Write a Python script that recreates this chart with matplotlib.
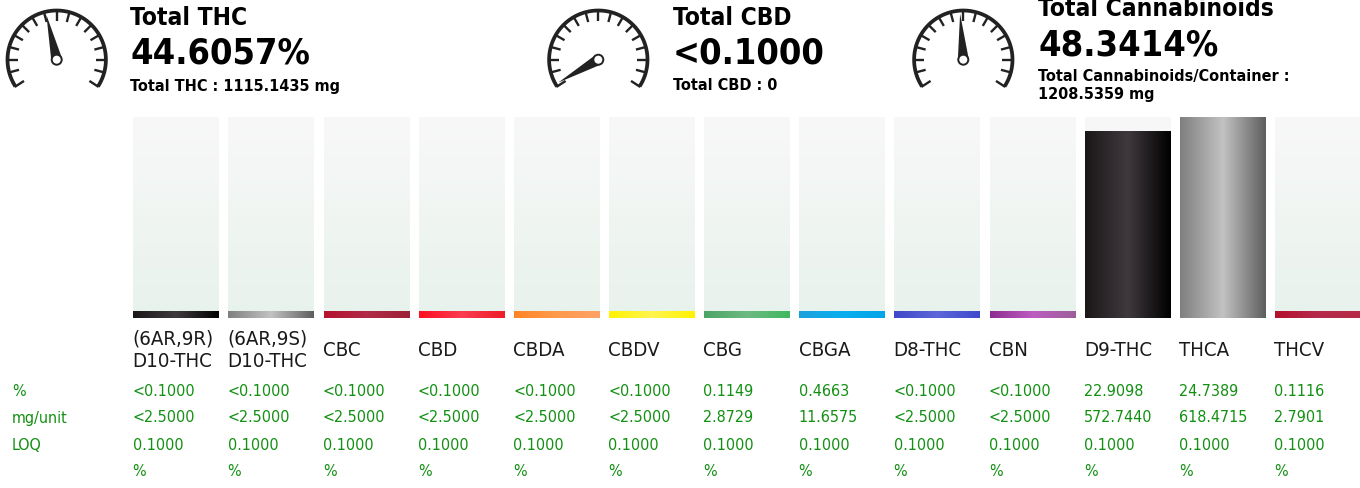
import numpy as np
import matplotlib
matplotlib.use("Agg")
import matplotlib.pyplot as plt
from matplotlib.colors import LinearSegmentedColormap
from matplotlib.patches import Circle, Polygon

W, H = 1360, 489

analytes = ["(6AR,9R)\nD10-THC", "(6AR,9S)\nD10-THC", "CBC", "CBD", "CBDA", "CBDV", "CBG",
            "CBGA", "D8-THC", "CBN", "D9-THC", "THCA", "THCV"]
percent_values = [0, 0, 0, 0, 0, 0, 0.1149, 0.4663, 0, 0, 22.9098, 24.7389, 0.1116]
percent_labels = ["<0.1000", "<0.1000", "<0.1000", "<0.1000", "<0.1000", "<0.1000", "0.1149",
                  "0.4663", "<0.1000", "<0.1000", "22.9098", "24.7389", "0.1116"]
mg_labels = ["<2.5000", "<2.5000", "<2.5000", "<2.5000", "<2.5000", "<2.5000", "2.8729",
             "11.6575", "<2.5000", "<2.5000", "572.7440", "618.4715", "2.7901"]
loq_labels = ["0.1000"] * 13
unit_labels = ["%"] * 13
row_names = ["%", "mg/unit", "LOQ"]
bar_gradients = [
    ["#1b1718", "#3f393e", "#000000"],
    ["#7f7f7f", "#c2c2c2", "#5e5e5e"],
    ["#b5122d", "#b12b47", "#9b2136"],
    ["#ff1020", "#fb3c50", "#ee1c28"],
    ["#ff8426", "#ff9a4a", "#ffa266"],
    ["#fff200", "#fff44f", "#fff200"],
    ["#4aa564", "#6eba82", "#3eb85f"],
    ["#1ba1dc", "#09aeef", "#00a4e8"],
    ["#3f48c8", "#5d67d8", "#3f48cc"],
    ["#8c2d8f", "#bd5cc2", "#9c6098"],
    ["#1b1718", "#3f393e", "#000000"],
    ["#7f7f7f", "#c2c2c2", "#5e5e5e"],
    ["#b5102c", "#b52a4c", "#b52a44"],
]
track_colors = ["#f8f8f8", "#e8f2ec"]

gauge_titles = ["Total THC", "Total CBD", "Total Cannabinoids"]
gauge_values = [44.6057, 0.1, 48.3414]
gauge_labels = ["44.6057%", "<0.1000", "48.3414%"]
gauge_notes = ["Total THC : 1115.1435 mg", "Total CBD : 0",
               "Total Cannabinoids/Container :\n1208.5359 mg"]

fig = plt.figure(figsize=(W / 100, H / 100), dpi=100, facecolor="white")
plt.rcParams["font.family"] = "DejaVu Sans"
COND = dict(family="DejaVu Sans", stretch="condensed")

ov = fig.add_axes([0, 0, 1, 1], zorder=2)
ov.set_xlim(0, W)
ov.set_ylim(H, 0)
ov.axis("off")
ov.patch.set_alpha(0)

PITCH, BW, X0 = 95.15, 85.6, 176.0
TOP, BOT = 117.6, 318.6
bx = fig.add_axes([0, 1 - BOT / H, 1, (BOT - TOP) / H], zorder=1)
ymax = max(percent_values)
bx.axis("off")
min_bar = ymax * 7 / (BOT - TOP)
bw = BW / PITCH
track_cmap = LinearSegmentedColormap.from_list("track", track_colors)
grad_y = np.linspace(0, 1, 256).reshape(-1, 1)
grad_x = np.linspace(0, 1, 256).reshape(1, -1)
for i, v in enumerate(percent_values):
    bx.imshow(grad_y, cmap=track_cmap, aspect="auto", origin="upper",
              extent=(i - bw / 2, i + bw / 2, 0, ymax), zorder=1)
    cmap = LinearSegmentedColormap.from_list(f"b{i}", bar_gradients[i])
    bx.imshow(grad_x, cmap=cmap, aspect="auto",
              extent=(i - bw / 2, i + bw / 2, 0, max(v, min_bar)), zorder=2)
bx.set_xlim((0 - X0) / PITCH, (W - X0) / PITCH)
bx.set_ylim(0, ymax)

GREEN = "#129012"
for i, name in enumerate(analytes):
    x = X0 - BW / 2 + PITCH * i - 0.7
    ov.text(x, 350, name, fontsize=14.7, color="#1a1a1a", ha="left", va="center", linespacing=1.25, **COND)
    for y, col in zip((392, 418, 445, 471), (percent_labels, mg_labels, loq_labels, unit_labels)):
        ov.text(x, y, col[i], fontsize=11.5, color=GREEN, ha="left", va="center", **COND)
for y, name in zip((392, 418, 445), row_names):
    ov.text(12, y, name, fontsize=11.5, color=GREEN, ha="left", va="center", **COND)

DARK = "#222222"
centers = [56.7, 598.3, 963.3]
text_x = [130, 673, 1038]
title_y = [18, 18, 9]
value_y = [54, 54, 45]
note_y = [86, 86, 85]
CY = 60.7
R_OUT = 51
for cx, val, title, lab, note, tx, ty, vy, ny in zip(centers, gauge_values, gauge_titles, gauge_labels,
                                                     gauge_notes, text_x, title_y, value_y, note_y):
    a = np.radians(np.linspace(-33, 213, 200))
    ov.plot(cx + (R_OUT - 1.8) * np.cos(a), CY - (R_OUT - 1.8) * np.sin(a), color=DARK, lw=2.7,
            solid_capstyle="butt")
    for d in list(np.arange(-15, 196, 15)) + [-33, 213]:
        r = np.radians(d)
        ov.plot([cx + (R_OUT - 12) * np.cos(r), cx + (R_OUT - 1) * np.cos(r)],
                [CY - (R_OUT - 12) * np.sin(r), CY - (R_OUT - 1) * np.sin(r)],
                color=DARK, lw=1.7, solid_capstyle="butt")
    t = np.radians(210 - 2.4 * val)
    ux, uy = np.cos(t), -np.sin(t)
    px, py = -uy, ux
    tip = (cx + 46 * ux, CY + 46 * uy)
    ov.add_patch(Polygon([tip, (cx + 5.5 * px, CY + 5.5 * py), (cx - 5.5 * px, CY - 5.5 * py)],
                         closed=True, fc=DARK, ec="none", zorder=3))
    ov.add_patch(Circle((cx, CY), 5.0, fc="white", ec=DARK, lw=1.4, zorder=4))
    ov.text(tx, ty, title, fontsize=17.6, fontweight="bold", color="black", ha="left", va="center", **COND)
    ov.text(tx, vy, lab, fontsize=25.9, fontweight="bold", color="black", ha="left", va="center", **COND)
    ov.text(tx, ny, note, fontsize=11.6, fontweight="bold", color="black", ha="left", va="center",
            linespacing=1.25, **COND)

fig.savefig("out.png", dpi=100, facecolor="white")
